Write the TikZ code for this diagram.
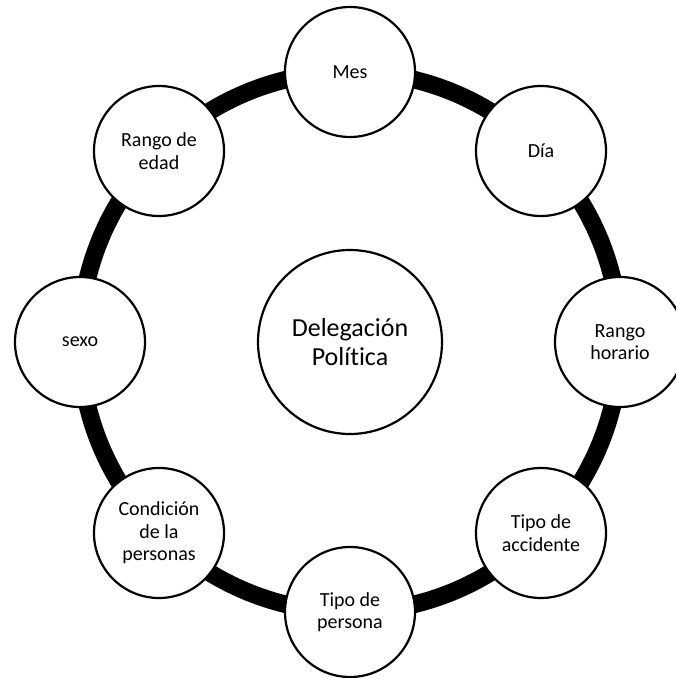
\documentclass[tikz,border=0pt]{standalone}
\usepackage{fontspec}
\setmainfont{Carlito}[Ligatures=NoCommon]
\usepackage{tikz}
\tikzset{factor/.style = {circle, draw, line width=1.1pt, fill=white, inner sep=0pt,
    minimum size=65pt, align=center, font=\fontsize{10pt}{11.3pt}\selectfont}}
\tikzset{hub/.style = {factor, minimum size=92pt, font=\fontsize{13pt}{14.5pt}\selectfont}}
\tikzset{ring/.style = {line width=8.8pt}}

\begin{document}
\begin{tikzpicture}[x=.5pt, y=-.5pt]
        \useasboundingbox (0,0) rectangle (675,678);
        \coordinate (mid) at (350,342);
        \draw [ring] (mid) circle [radius=135pt];
        \node [hub] (delegacion) at (mid) {Delegación\\Política};
        \node [factor] (mes) at (350,72) {Mes};
        \node [factor] (dia) at (541,151) {Día};
        \node [factor] (horario) at (620,342) {Rango\\horario};
        \node [factor] (accidente) at (541,533) {Tipo de\\accidente};
        \node [factor] (persona) at (350,612) {Tipo de\\persona};
        \node [factor] (condicion) at (159,533) {Condición\\de la\\personas};
        \node [factor] (sexo) at (80,342) {sexo};
        \node [factor] (edad) at (159,151) {Rango de\\edad};
      \end{tikzpicture}
\end{document}
